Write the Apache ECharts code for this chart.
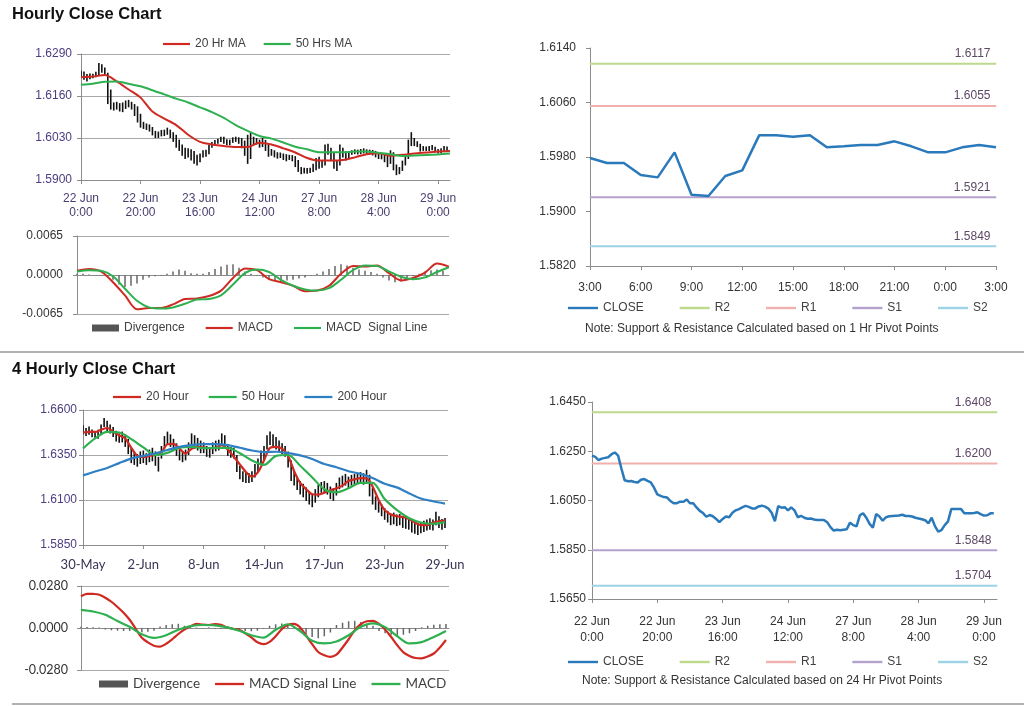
<!DOCTYPE html>
<html><head><meta charset="utf-8">
<script src="https://cdn.jsdelivr.net/npm/echarts@6/dist/echarts.min.js"></script>
<style>html,body{margin:0;padding:0;background:#fff}#c{width:1024px;height:706px}</style>
</head><body><div id="c"></div>
<script>
// ---------- tick labels ----------
const hourlyTicks = ['22 Jun\n0:00','22 Jun\n20:00','23 Jun\n16:00','24 Jun\n12:00','27 Jun\n8:00','28 Jun\n4:00','29 Jun\n0:00'];
const fourHourTicks = ['30-May','2-Jun','8-Jun','14-Jun','17-Jun','23-Jun','29-Jun'];
const pivotHourTicks = ['3:00','6:00','9:00','12:00','15:00','18:00','21:00','0:00','3:00'];

// ---------- hourly close (22 Jun 0:00 -> 29 Jun), used by the 24 Hr pivot chart ----------
const hourlyClose = [
1.6232,1.6227,1.6214,1.6220,1.6223,1.6226,1.6238,1.6245,1.6232,1.6180,
1.6132,1.6128,1.6129,1.6125,1.6123,1.6134,1.6137,1.6130,1.6124,1.6102,
1.6075,1.6069,1.6064,1.6062,1.6048,1.6039,1.6039,1.6045,1.6045,1.6054,
1.6039,1.6039,1.6022,1.6008,1.5999,1.5984,1.5991,1.5986,1.5975,1.5962,
1.5975,1.5985,1.5982,1.6000,1.6010,1.6015,1.6022,1.6028,1.6024,1.6018,
1.6018,1.6026,1.6029,1.6025,1.6017,1.6000,1.5966,1.6027,1.6021,1.6023,
1.6010,1.6022,1.6010,1.5982,1.5988,1.5980,1.5976,1.5977,1.5973,1.5971,
1.5971,1.5971,1.5962,1.5942,1.5928,1.5931,1.5929,1.5931,1.5933,1.5960,
1.5950,1.5945,1.5990,1.5998,1.5980,1.5955,1.5940,1.5995,1.5985,1.5968,
1.5982,1.5986,1.5987,1.5988,1.5989,1.5992,1.5987,1.5987,1.5985,1.5980,
1.5977,1.5974,1.5970,1.5957,1.5980,1.5946,1.5924,1.5930,1.5950,1.5965,
1.6015,1.6015,1.6015,1.6015,1.5998,1.5998,1.5998,1.5999,1.6002,1.5995,
1.5989,1.5990,1.5998,1.5998];

// hourly bar highs / lows
const hourlyHigh = [
1.6238,1.6236,1.6228,1.6230,1.6229,1.6235,1.6262,1.6258,1.6248,1.6232,
1.6180,1.6140,1.6142,1.6138,1.6140,1.6146,1.6148,1.6142,1.6135,1.6128,
1.6105,1.6080,1.6075,1.6072,1.6064,1.6052,1.6050,1.6055,1.6056,1.6062,
1.6056,1.6048,1.6040,1.6025,1.6010,1.6000,1.5998,1.5995,1.5990,1.5978,
1.5982,1.5992,1.5994,1.6008,1.6018,1.6024,1.6028,1.6034,1.6034,1.6026,
1.6025,1.6032,1.6034,1.6032,1.6030,1.6022,1.6040,1.6046,1.6034,1.6030,
1.6025,1.6030,1.6024,1.6012,1.5996,1.5992,1.5986,1.5985,1.5982,1.5980,
1.5978,1.5977,1.5974,1.5962,1.5940,1.5938,1.5937,1.5938,1.5950,1.5968,
1.5972,1.5962,1.6010,1.6012,1.6000,1.5985,1.5962,1.6010,1.6000,1.5988,
1.5990,1.5992,1.5995,1.5994,1.5996,1.5998,1.5995,1.5994,1.5993,1.5990,
1.5985,1.5983,1.5980,1.5975,1.5992,1.5986,1.5948,1.5940,1.5960,1.5978,
1.6025,1.6048,1.6030,1.6020,1.6012,1.6005,1.6004,1.6005,1.6008,1.6003,
1.5996,1.5998,1.6005,1.6004];
const hourlyLow = [
1.6218,1.6210,1.6205,1.6212,1.6215,1.6218,1.6224,1.6232,1.6222,1.6135,
1.6118,1.6115,1.6118,1.6112,1.6110,1.6120,1.6125,1.6118,1.6098,1.6078,
1.6062,1.6058,1.6055,1.6050,1.6038,1.6030,1.6030,1.6035,1.6036,1.6040,
1.6030,1.6018,1.6000,1.5990,1.5975,1.5965,1.5970,1.5960,1.5950,1.5945,
1.5955,1.5970,1.5972,1.5980,1.6000,1.6005,1.6012,1.6018,1.6012,1.6008,
1.6008,1.6015,1.6018,1.6012,1.5998,1.5975,1.5950,1.5965,1.6008,1.6010,
1.6000,1.6002,1.5990,1.5972,1.5975,1.5970,1.5966,1.5968,1.5962,1.5958,
1.5962,1.5958,1.5940,1.5925,1.5918,1.5920,1.5919,1.5922,1.5925,1.5930,
1.5935,1.5938,1.5945,1.5978,1.5958,1.5935,1.5928,1.5945,1.5970,1.5960,
1.5968,1.5978,1.5980,1.5979,1.5980,1.5982,1.5978,1.5979,1.5976,1.5970,
1.5965,1.5964,1.5955,1.5940,1.5950,1.5930,1.5915,1.5918,1.5928,1.5945,
1.5965,1.6005,1.6005,1.6002,1.5988,1.5990,1.5990,1.5990,1.5992,1.5985,
1.5982,1.5983,1.5988,1.5990];

// hourly moving averages, read every 4 hours
const ma20Hr = [1.6218,1.6220,1.6225,1.6205,1.6180,1.6155,1.6112,1.6090,1.6070,1.6040,1.6018,1.6010,1.6005,1.6002,1.6002,1.6015,
                1.6010,1.5998,1.5985,1.5968,1.5960,1.5960,1.5962,1.5970,1.5980,1.5983,1.5975,1.5978,1.5982,1.5985,1.5988,1.5990];
const ma50Hr = [1.6195,1.6198,1.6204,1.6205,1.6198,1.6190,1.6178,1.6165,1.6152,1.6140,1.6125,1.6110,1.6092,1.6070,1.6052,1.6036,
                1.6028,1.6016,1.6003,1.5995,1.5986,1.5986,1.5986,1.5988,1.5988,1.5984,1.5980,1.5974,1.5976,1.5977,1.5979,1.5982];
// hourly MACD, read every 4 hours
const macdHr = [0.0007,0.0010,0.0006,-0.0012,-0.0034,-0.0057,-0.0055,-0.0055,-0.0049,-0.0040,-0.0039,-0.0035,-0.0026,-0.0005,0.0011,0.0008,
                -0.0007,-0.0012,-0.0018,-0.0027,-0.0026,-0.0018,0.0002,0.0015,0.0014,0.0016,0.0003,-0.0009,-0.0005,0.0004,0.0019,0.0014];
const signalHr = [0.0006,0.0008,0.0007,-0.0002,-0.0023,-0.0043,-0.0054,-0.0056,-0.0054,-0.0048,-0.0041,-0.0040,-0.0034,-0.0016,0.0003,0.0009,
                0.0005,-0.0008,-0.0018,-0.0024,-0.0026,-0.0022,-0.0008,0.0008,0.0016,0.0015,0.0006,-0.0003,-0.0007,-0.0004,0.0005,0.0013];
// hourly divergence, read every 2 hours
const divergenceHr = [
0.0002,0.0002,0.0001,0.0000,-0.0001,-0.0003,-0.0008,-0.0016,-0.0020,-0.0018,
-0.0014,-0.0008,-0.0004,-0.0002,-0.0001,0.0002,0.0006,0.0009,0.0007,0.0003,
0.0002,0.0002,0.0005,0.0010,0.0014,0.0017,0.0018,0.0012,0.0006,0.0002,
-0.0001,-0.0004,-0.0008,-0.0010,-0.0011,-0.0009,-0.0008,-0.0006,-0.0004,-0.0001,
0.0002,0.0006,0.0010,0.0015,0.0018,0.0016,0.0012,0.0009,0.0007,0.0005,
0.0002,-0.0004,-0.0009,-0.0012,-0.0011,-0.0006,-0.0002,0.0002,0.0006,0.0008,
0.0009,0.0007];

// ---------- 1 Hr pivot chart ----------
const pivotClose = [1.59785,1.59712,1.59712,1.59536,1.59501,1.59868,1.59247,1.59228,1.59521,1.59604,
                    1.60118,1.60118,1.60098,1.60118,1.59942,1.59957,1.59976,1.59976,1.60030,1.59957,
                    1.59868,1.59868,1.59942,1.59976,1.59942];
const pivotNames = ['R2','R1','S1','S2'];
const pivot1Hr = [1.6117,1.6055,1.5921,1.5849];
const pivot24Hr = [1.6408,1.6200,1.5848,1.5704];

// ---------- 4 hourly chart (30 May -> 29 Jun) ----------
const fourHigh = [
1.6515,1.6500,1.6508,1.6492,1.6480,1.6490,1.6520,1.6555,1.6540,1.6520,
1.6505,1.6485,1.6470,1.6480,1.6465,1.6440,1.6395,1.6365,1.6355,1.6370,
1.6375,1.6360,1.6380,1.6390,1.6370,1.6340,1.6400,1.6455,1.6480,1.6465,
1.6440,1.6415,1.6385,1.6370,1.6380,1.6420,1.6470,1.6460,1.6445,1.6430,
1.6420,1.6400,1.6395,1.6420,1.6430,1.6435,1.6470,1.6460,1.6410,1.6395,
1.6390,1.6350,1.6290,1.6260,1.6255,1.6250,1.6260,1.6300,1.6330,1.6375,
1.6400,1.6460,1.6480,1.6465,1.6450,1.6430,1.6415,1.6400,1.6370,1.6320,
1.6265,1.6230,1.6205,1.6190,1.6170,1.6150,1.6135,1.6160,1.6185,1.6200,
1.6205,1.6195,1.6175,1.6165,1.6195,1.6225,1.6235,1.6245,1.6230,1.6240,
1.6245,1.6250,1.6255,1.6248,1.6268,1.6240,1.6170,1.6120,1.6095,1.6075,
1.6055,1.6040,1.6025,1.6030,1.6020,1.6022,1.6008,1.6005,1.5998,1.5985,
1.5975,1.5970,1.5978,1.5985,1.5992,1.5998,1.5992,1.6035,1.6010,1.5995,1.6000];
const fourLow = [
1.6465,1.6455,1.6462,1.6448,1.6440,1.6440,1.6462,1.6505,1.6475,1.6470,
1.6450,1.6425,1.6418,1.6420,1.6395,1.6355,1.6305,1.6295,1.6285,1.6300,
1.6305,1.6295,1.6310,1.6315,1.6290,1.6258,1.6330,1.6385,1.6410,1.6395,
1.6375,1.6345,1.6320,1.6310,1.6320,1.6350,1.6395,1.6385,1.6375,1.6360,
1.6360,1.6340,1.6335,1.6355,1.6370,1.6375,1.6405,1.6385,1.6345,1.6335,
1.6330,1.6255,1.6215,1.6200,1.6195,1.6195,1.6200,1.6225,1.6255,1.6295,
1.6320,1.6380,1.6405,1.6395,1.6380,1.6370,1.6355,1.6340,1.6280,1.6205,
1.6180,1.6155,1.6130,1.6115,1.6095,1.6075,1.6060,1.6085,1.6115,1.6140,
1.6145,1.6130,1.6105,1.6095,1.6125,1.6160,1.6170,1.6180,1.6165,1.6180,
1.6185,1.6190,1.6195,1.6185,1.6200,1.6120,1.6075,1.6045,1.6030,1.6010,
1.5990,1.5975,1.5960,1.5965,1.5955,1.5960,1.5945,1.5940,1.5935,1.5920,
1.5912,1.5905,1.5915,1.5922,1.5930,1.5935,1.5930,1.5960,1.5945,1.5935,1.5945];
// 20 hour MA read every 2 bars; 50 / 200 hour MA read every 4 bars
const ma20Four = [
1.6475,1.6478,1.6478,1.6490,1.6500,1.6480,1.6460,1.6442,1.6390,1.6345,
1.6338,1.6345,1.6352,1.6365,1.6410,1.6412,1.6385,1.6358,1.6385,1.6395,
1.6392,1.6388,1.6390,1.6405,1.6380,1.6340,1.6298,1.6256,1.6230,1.6255,
1.6320,1.6390,1.6395,1.6385,1.6345,1.6260,1.6195,1.6160,1.6132,1.6130,
1.6140,1.6154,1.6165,1.6180,1.6205,1.6215,1.6222,1.6220,1.6175,1.6100,
1.6045,1.6020,1.6010,1.6006,1.5995,1.5975,1.5960,1.5960,1.5975,1.5982,1.5985];
const ma50Four = [1.6386,1.6442,1.6479,1.6475,1.6438,1.6392,1.6350,1.6362,1.6390,1.6395,1.6388,1.6390,1.6390,1.6360,1.6320,1.6295,
                  1.6345,1.6350,1.6290,1.6225,1.6160,1.6143,1.6165,1.6195,1.6195,1.6105,1.6045,1.6000,1.5975,1.5968,1.5977];
const ma200Four = [1.6237,1.6258,1.6278,1.6305,1.6330,1.6345,1.6360,1.6378,1.6395,1.6405,1.6410,1.6410,1.6405,1.6390,1.6375,1.6366,
                   1.6368,1.6360,1.6348,1.6328,1.6300,1.6282,1.6260,1.6245,1.6222,1.6190,1.6170,1.6138,1.6108,1.6093,1.6080];
// 4 hourly MACD
const signalFour = [
0.0211,0.0228,0.0227,0.0222,0.0202,0.0175,0.0140,0.0102,0.0055,-0.0005,
-0.0065,-0.0096,-0.0118,-0.0124,-0.0105,-0.0075,-0.0040,-0.0010,0.0012,0.0027,
0.0022,0.0020,0.0026,0.0022,0.0004,-0.0005,-0.0012,-0.0035,-0.0062,-0.0095,
-0.0108,-0.0092,-0.0055,-0.0008,0.0020,0.0027,0.0005,-0.0050,-0.0108,-0.0160,
-0.0182,-0.0193,-0.0178,-0.0130,-0.0075,-0.0015,0.0025,0.0045,0.0048,0.0027,
-0.0010,-0.0060,-0.0115,-0.0162,-0.0186,-0.0200,-0.0202,-0.0190,-0.0170,-0.0130,-0.0080];
const macdFour = [0.0121,0.0110,0.0088,0.0046,0.0008,-0.0042,-0.0066,-0.0048,-0.0012,0.0012,0.0020,0.0018,0.0004,-0.0018,-0.0048,-0.0064,
                  -0.0012,0.0025,-0.0020,-0.0085,-0.0103,-0.0090,-0.0048,0.0008,0.0031,0.0006,-0.0055,-0.0103,-0.0094,-0.0060,-0.0020];
const divergenceFour = [
0.0008,0.0006,0.0005,0.0003,-0.0010,-0.0015,-0.0018,-0.0020,-0.0020,-0.0025,
-0.0028,-0.0025,-0.0018,0.0010,0.0020,0.0025,0.0028,0.0015,0.0005,0.0003,
-0.0003,0.0004,-0.0004,-0.0005,-0.0006,-0.0008,-0.0015,-0.0020,-0.0022,-0.0018,
-0.0005,0.0015,0.0025,0.0030,0.0022,0.0008,-0.0020,-0.0040,-0.0060,-0.0068,
-0.0055,-0.0030,0.0020,0.0035,0.0045,0.0048,0.0040,0.0030,0.0015,-0.0020,
-0.0035,-0.0045,-0.0048,-0.0045,-0.0035,-0.0020,0.0005,0.0015,0.0022,0.0025,0.0026];

// ---------- styles ----------
const FONT = 'Liberation Sans, Arial, sans-serif';
const FONT2 = 'Lato, Liberation Sans, sans-serif';
const RED = '#cf2a22', GREEN = '#2fb050', BLUE = '#2f7fc4', CLOSE_C = '#2a79bb';
const PIV_COLORS = ['#bcd98c','#efb0ae','#b4a2cc','#9dd3e6'];
const AXIS_C = '#8c8c8c', GRID_C = '#a8a8a8';
const LINE_ICON = 'path://M0,0H30V2.4H0Z';

function stepped(arr, step){ return arr.map((v,k)=>[k*step, v]); }
function seq(n, step){ const a=[]; for(let i=0;i<n;i++) a.push(i*step); return a; }

function xAxis(gi, max, ticks, labels, o){
  o = o || {};
  return {type:'value', gridIndex:gi, min:0, max:max,
    axisLine:{show:true, onZero: !!o.onZero, lineStyle:{color:AXIS_C}},
    axisTick:{show: labels !== null, customValues:ticks, length:4, lineStyle:{color:AXIS_C}},
    axisLabel:{show: labels !== null, customValues:ticks, color:o.color||'#333', fontFamily:o.font||FONT, fontSize:o.size||12,
      lineHeight:o.lh||14, margin:o.margin||10, showMinLabel:true, showMaxLabel:true,
      formatter: v => { if(!labels) return ''; const k = ticks.indexOf(v); return k<0 ? '' : labels[k]; }},
    splitLine:{show:false}};
}
function yAxis(gi, min, max, ticks, o){
  o = o || {};
  return {type:'value', gridIndex:gi, min:min, max:max,
    axisLine:{show:true, lineStyle:{color:AXIS_C}},
    axisTick:{show:true, customValues:ticks, length:4, lineStyle:{color:AXIS_C}},
    axisLabel:{customValues:ticks, color:o.color||'#333', fontFamily:o.font||FONT, fontSize:o.size||12, margin:o.margin||8,
      formatter: v => v.toFixed(4)},
    splitLine:{show: !!o.grid, lineStyle:{color:GRID_C, width:1}}};
}
function hiLoSeries(name, hi, lo, gi){
  return {type:'custom', name:name, xAxisIndex:gi, yAxisIndex:gi, z:2, clip:true,
    data: hi.map((h,i)=>[i, lo[i], h]),
    encode:{x:0, y:[1,2]},
    renderItem:(params, api)=>{
      const p1 = api.coord([api.value(0), api.value(1)]);
      const p2 = api.coord([api.value(0), api.value(2)]);
      return {type:'line', shape:{x1:p1[0], y1:p1[1], x2:p2[0], y2:p2[1]}, style:{stroke:'#111', lineWidth:1.6}};
    }};
}
function lineSeries(name, data, gi, color, width, z){
  return {type:'line', name:name, xAxisIndex:gi, yAxisIndex:gi, data:data, symbol:'none', smooth:0.3,
    color:color, lineStyle:{color:color, width:width||2}, z:z||3};
}
function divSeries(name, data, gi){
  return {type:'bar', name:name, xAxisIndex:gi, yAxisIndex:gi, data:data, barWidth:1.5, color:'#666',
    itemStyle:{color:'#666'}, z:2};
}
function pivotSeries(levels, k, gi, xmax){
  const c = PIV_COLORS[k], v = levels[k];
  return {type:'line', name:pivotNames[k], xAxisIndex:gi, yAxisIndex:gi, color:c, z:3,
    symbol:'circle', symbolSize:1, showSymbol:true, itemStyle:{color:c}, lineStyle:{color:c, width:2},
    data:[[0, v], {value:[xmax, v], label:{show:true, position:'left', distance:5, offset:[0,-10],
      formatter:v.toFixed(4), color:'#5d4866', fontFamily:FONT, fontSize:12}}]};
}
function legendItems(names){ return names.map(n => (n==='Divergence' ? {name:n, icon:'rect', itemStyle:{color:'#555'}} : {name:n, icon:LINE_ICON})); }

const hourTickPos = seq(hourlyTicks.length, 20);
const fourTickPos = seq(fourHourTicks.length, 20);
const pivotTickPos = seq(pivotHourTicks.length, 3);

const legendBase = {orient:'horizontal', padding:0, itemHeight:7, symbolKeepAspect:true,
  textStyle:{color:'#404040', fontFamily:FONT, fontSize:12}, selectedMode:false};

const option = {
  animation:false,
  backgroundColor:'#fff',
  grid:[
    {left:81, top:54, width:369, height:126},
    {left:77, top:236, width:372, height:78},
    {left:590, top:48, width:406, height:218},
    {left:83, top:410, width:365, height:135},
    {left:81, top:586, width:368, height:84},
    {left:592, top:402, width:405, height:197}
  ],
  xAxis:[
    xAxis(0, 124, hourTickPos, hourlyTicks, {color:'#4a3d70', margin:12, lh:14}),
    xAxis(1, 124, [], null, {onZero:true}),
    xAxis(2, 24, pivotTickPos, pivotHourTicks, {margin:15}),
    xAxis(3, 121, fourTickPos, fourHourTicks, {color:'#3b3355', font:FONT2, size:13, margin:13}),
    xAxis(4, 121, [], null, {onZero:true}),
    xAxis(5, 124, hourTickPos, hourlyTicks, {margin:15, lh:16})
  ],
  yAxis:[
    yAxis(0, 1.590, 1.629, [1.590,1.603,1.616,1.629], {grid:true, color:'#4d3c80', margin:9}),
    yAxis(1, -0.0065, 0.0065, [-0.0065,0,0.0065], {grid:true, margin:14}),
    yAxis(2, 1.582, 1.614, [1.582,1.590,1.598,1.606,1.614], {margin:14}),
    yAxis(3, 1.585, 1.660, [1.585,1.610,1.635,1.660], {grid:true, color:'#4d3c80', margin:6}),
    yAxis(4, -0.028, 0.028, [-0.028,0,0.028], {grid:true, font:FONT2, size:12.5, margin:13}),
    yAxis(5, 1.565, 1.645, [1.565,1.585,1.605,1.625,1.645], {margin:6})
  ],
  legend:[
    Object.assign({}, legendBase, {left:163, top:38, itemWidth:27, itemGap:18, data:legendItems(['20 Hr MA','50 Hrs MA'])}),
    Object.assign({}, legendBase, {left:92, top:322, itemWidth:27, itemGap:21, data:legendItems(['Divergence','MACD','MACD  Signal Line'])}),
    Object.assign({}, legendBase, {left:568, top:302, itemWidth:30, itemGap:36, data:legendItems(['CLOSE','R2','R1','S1','S2'])}),
    Object.assign({}, legendBase, {left:113, top:391, itemWidth:28, itemGap:20, data:legendItems(['20 Hour','50 Hour','200 Hour'])}),
    Object.assign({}, legendBase, {left:99, top:677, itemWidth:29, itemGap:15,
      textStyle:{color:'#404040', fontFamily:FONT2, fontSize:13.5},
      data:legendItems(['Divergence','MACD Signal Line','MACD '])}),
    Object.assign({}, legendBase, {left:568, top:656, itemWidth:30, itemGap:36, data:legendItems(['CLOSE','R2','R1','S1','S2'])})
  ],
  graphic:[
    {type:'text', left:12, top:6, style:{text:'Hourly Close Chart', font:'bold 16.5px '+FONT, fill:'#111'}},
    {type:'text', left:12, top:361, style:{text:'4 Hourly Close Chart', font:'bold 16.5px '+FONT, fill:'#111'}},
    {type:'text', left:585, top:323, style:{text:'Note: Support & Resistance Calculated based on 1 Hr Pivot Points', font:'12px '+FONT, fill:'#333'}},
    {type:'text', left:582, top:675, style:{text:'Note: Support & Resistance Calculated based on 24 Hr Pivot Points', font:'12px '+FONT, fill:'#333'}},
    {type:'line', shape:{x1:0, y1:352, x2:1024, y2:352}, style:{stroke:'#999', lineWidth:1.5}},
    {type:'line', shape:{x1:12, y1:704, x2:1024, y2:704}, style:{stroke:'#999', lineWidth:1.5}}
  ],
  series:[
    // panel 1
    hiLoSeries('Hourly', hourlyHigh, hourlyLow, 0),
    lineSeries('20 Hr MA', stepped(ma20Hr,4), 0, RED, 2),
    lineSeries('50 Hrs MA', stepped(ma50Hr,4), 0, GREEN, 2),
    // panel 2
    divSeries('Divergence', stepped(divergenceHr,2), 1),
    lineSeries('MACD', stepped(macdHr,4), 1, RED, 2),
    lineSeries('MACD  Signal Line', stepped(signalHr,4), 1, GREEN, 2),
    // panel 3
    Object.assign(lineSeries('CLOSE', stepped(pivotClose,1), 2, CLOSE_C, 2.5, 5), {smooth:false}),
    pivotSeries(pivot1Hr,0,2,24), pivotSeries(pivot1Hr,1,2,24), pivotSeries(pivot1Hr,2,2,24), pivotSeries(pivot1Hr,3,2,24),
    // panel 4
    hiLoSeries('4 Hourly', fourHigh, fourLow, 3),
    lineSeries('20 Hour', stepped(ma20Four,2), 3, RED, 2.2),
    lineSeries('50 Hour', stepped(ma50Four,4), 3, GREEN, 2.2),
    lineSeries('200 Hour', stepped(ma200Four,4), 3, BLUE, 2.2),
    // panel 5
    divSeries('Divergence', stepped(divergenceFour,2), 4),
    lineSeries('MACD Signal Line', stepped(signalFour,2), 4, RED, 2.2),
    lineSeries('MACD ', stepped(macdFour,4), 4, GREEN, 2.2),
    // panel 6
    Object.assign(lineSeries('CLOSE', stepped(hourlyClose,1), 5, CLOSE_C, 2.5, 5), {smooth:false}),
    pivotSeries(pivot24Hr,0,5,124), pivotSeries(pivot24Hr,1,5,124), pivotSeries(pivot24Hr,2,5,124), pivotSeries(pivot24Hr,3,5,124)
  ]
};
const chart = echarts.init(document.getElementById('c'), null, {renderer:'canvas'});
chart.setOption(option);
</script></body></html>
